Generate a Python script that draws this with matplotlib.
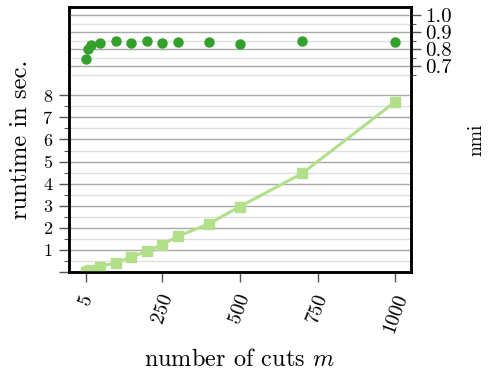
import numpy as np
import matplotlib
matplotlib.use('Agg')
import matplotlib.pyplot as plt
from matplotlib.ticker import FixedLocator

plt.rcParams['font.family'] = 'cmr10'
plt.rcParams['mathtext.fontset'] = 'cm'
plt.rcParams['axes.unicode_minus'] = False

# number of cuts
cuts = [5, 10, 20, 50, 100, 150, 200, 250, 300, 400, 500, 700, 1000]
# runtime in seconds
runtime = [0.02, 0.04, 0.08, 0.24, 0.42, 0.67, 0.94, 1.24, 1.61, 2.18, 2.96, 4.46, 7.71]
# nmi score
nmi = [0.744, 0.801, 0.825, 0.836, 0.846, 0.834, 0.846, 0.838, 0.842, 0.840, 0.832, 0.848, 0.840]

xticks = [5, 250, 500, 750, 1000]
rt_ticks = list(range(0, 9))
nmi_ticks = [0.7, 0.8, 0.9, 1.0]

c_runtime = '#b2df8a'
c_nmi = '#33a02c'
tick_col = '#555555'

fig = plt.figure(figsize=(4.89, 3.70), dpi=100)
ax = fig.add_axes([0.141, 0.265, 0.699, 0.716])
ax2 = ax.twinx()

# runtime (left axis)
ax.plot(cuts, runtime, color=c_runtime, marker='s', markersize=6.5, linewidth=2.2, zorder=3)
ax.set_xlim(-50, 1050)
ax.set_ylim(0, 12)
ax.yaxis.set_major_locator(FixedLocator(rt_ticks))
ax.set_yticklabels([''] + [str(i) for i in rt_ticks[1:]], fontsize=13)
ax.yaxis.set_minor_locator(FixedLocator(np.arange(0.5, 8, 1.0)))
ax.grid(True, which='major', axis='y', color='#a8a8a8', linewidth=1.0, zorder=0)
ax.grid(True, which='minor', axis='y', color='#e0e0e0', linewidth=1.0, zorder=0)
ax.set_xticks(xticks)
ax.set_xticklabels([str(t) for t in xticks], rotation=70, fontsize=14.5)
ax.set_xlabel('number of cuts $m$', fontsize=17.5, labelpad=10)
ax.set_ylabel('runtime in sec.', fontsize=17.7)
ax.yaxis.set_label_coords(-0.108, 0.5)
ax.tick_params(axis='x', which='major', direction='out', length=7, width=1.0, color=tick_col, pad=7)
ax.tick_params(axis='y', which='major', direction='out', length=7, width=1.0, color=tick_col, pad=5)
ax.tick_params(axis='y', which='minor', direction='out', length=3.5, width=0.8, color=tick_col)

# nmi (right axis)
ax2.plot(cuts, nmi, color=c_nmi, marker='o', markersize=6.5, linestyle='none', zorder=3)
ax2.set_ylim(-0.51, 1.047)
ax2.yaxis.set_major_locator(FixedLocator(nmi_ticks))
ax2.set_yticklabels([f'{v:.1f}' for v in nmi_ticks], fontsize=15)
ax2.yaxis.set_minor_locator(FixedLocator([0.65, 0.75, 0.85, 0.95]))
ax2.grid(True, which='major', axis='y', color='#a8a8a8', linewidth=1.0, zorder=0)
ax2.grid(True, which='minor', axis='y', color='#e0e0e0', linewidth=1.0, zorder=0)
ax2.set_ylabel('nmi', fontsize=14)
ax2.yaxis.set_label_coords(1.165, 0.5)
ax2.tick_params(axis='y', which='major', direction='out', length=7, width=1.0, color=tick_col, pad=3.5)
ax2.tick_params(axis='y', which='minor', direction='out', length=3.5, width=0.8, color=tick_col)

for a in (ax, ax2):
    for s in a.spines.values():
        s.set_linewidth(1.8)
        s.set_color('black')

plt.savefig('out.png', dpi=100)
